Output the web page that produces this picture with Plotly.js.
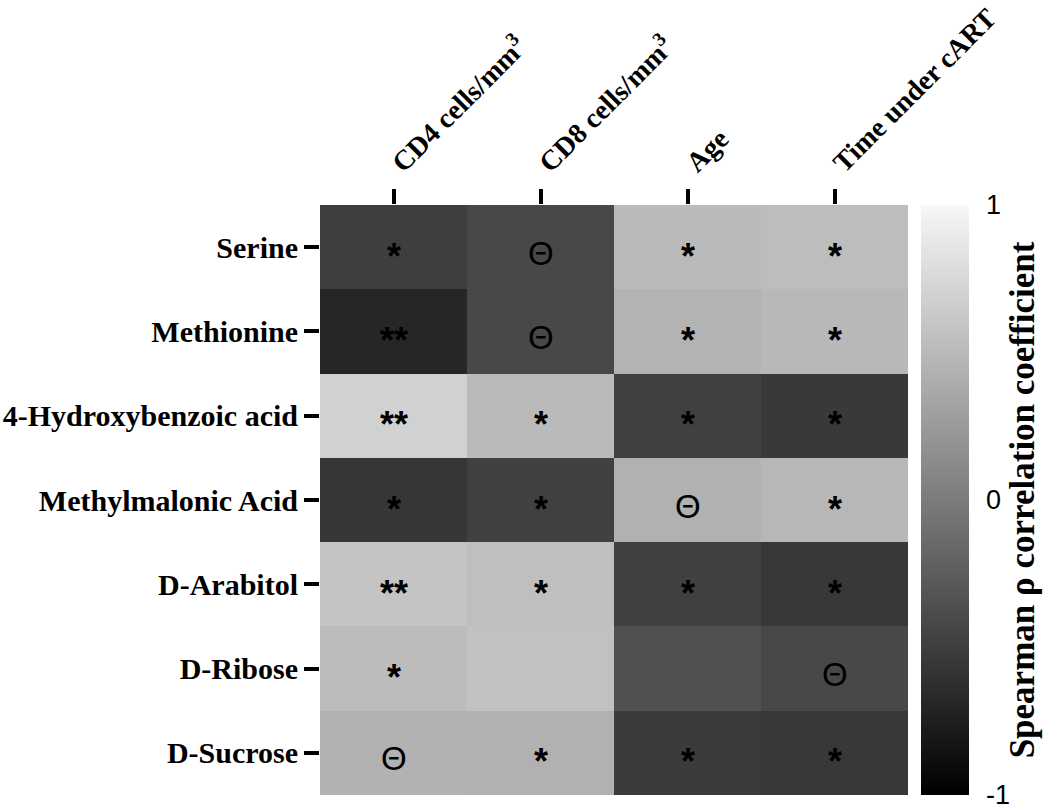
<!DOCTYPE html>
<html>
<head>
<meta charset="utf-8">
<script src="https://cdn.plot.ly/plotly-3.0.1.min.js"></script>
<style>html,body{margin:0;padding:0;background:#fff;}</style>
</head>
<body>
<div id="chart" style="width:1056px;height:809px;"></div>
<script>
const columns = ["CD4 cells/mm<sup>3</sup>", "CD8 cells/mm<sup>3</sup>", "Age", "Time under cART"];
const metabolites = ["Serine", "Methionine", "4-Hydroxybenzoic acid", "Methylmalonic Acid", "D-Arabitol", "D-Ribose", "D-Sucrose"];
const rho = [
  [-0.50, -0.42,  0.51,  0.53],
  [-0.69, -0.42,  0.45,  0.49],
  [ 0.69,  0.51, -0.48, -0.54],
  [-0.56, -0.47,  0.43,  0.48],
  [ 0.59,  0.55, -0.48, -0.55],
  [ 0.52,  0.56, -0.35, -0.42],
  [ 0.44,  0.43, -0.52, -0.55]
];
const marks = [
  ["*",  "Θ", "*", "*"],
  ["**", "Θ", "*", "*"],
  ["**", "*", "*", "*"],
  ["*",  "*", "Θ", "*"],
  ["**", "*", "*", "*"],
  ["*",  "",  "",  "Θ"],
  ["Θ",  "*", "*", "*"]
];
const cbTicks = [-1, 0, 1];

const trace = {
  type: "heatmap",
  x: columns,
  y: metabolites,
  z: rho,
  zmin: -1, zmax: 1,
  colorscale: [[0, "#000000"], [1, "#f7f7f7"]],
  hoverinfo: "none",
  colorbar: {
    x: 1.022, xanchor: "left", xref: "paper", xpad: 0,
    y: 0.5, yanchor: "middle", len: 1, lenmode: "fraction", ypad: 0,
    thickness: 48, outlinewidth: 0,
    tickvals: cbTicks, ticktext: cbTicks.map(String),
    ticks: "outside", ticklen: 12, tickcolor: "rgba(0,0,0,0)",
    ticklabeloverflow: "allow",
    tickfont: {family: "Liberation Sans, Arial, sans-serif", size: 27, color: "#000"},
    title: {text: "<b>Spearman ρ correlation coefficient</b>", side: "right",
            font: {family: "Liberation Serif, Times New Roman, serif", size: 35, color: "#000"}}
  }
};

// cell annotations built from the marks array
const annotations = [];
marks.forEach((row, i) => row.forEach((m, j) => {
  if (!m) return;
  const isStar = m.indexOf("*") >= 0;
  annotations.push({
    x: columns[j], y: metabolites[i], xref: "x", yref: "y",
    text: m, showarrow: false,
    yshift: isStar ? -9 : -6,
    font: {family: "Liberation Sans, Arial, sans-serif", size: isStar ? 36 : 33, color: "#000",
           weight: isStar ? "bold" : "normal"}
  });
}));

const layout = {
  width: 1056, height: 809,
  margin: {l: 320, r: 148, t: 205, b: 14, pad: 0},
  paper_bgcolor: "#fff", plot_bgcolor: "#fff",
  font: {family: "Liberation Serif, Times New Roman, serif", color: "#000"},
  annotations: annotations,
  xaxis: {
    side: "top", type: "category",
    ticks: "outside", ticklen: 15, tickwidth: 4, tickcolor: "#000",
    tickangle: -45, showgrid: false, zeroline: false, showline: false,
    tickfont: {family: "Liberation Serif, Times New Roman, serif", size: 28, color: "#000", weight: "bold"}
  },
  yaxis: {
    type: "category", autorange: "reversed",
    ticks: "outside", ticklen: 15, tickwidth: 4, tickcolor: "#000",
    showgrid: false, zeroline: false, showline: false,
    tickfont: {family: "Liberation Serif, Times New Roman, serif", size: 30, color: "#000", weight: "bold"}
  }
};

Plotly.newPlot("chart", [trace], layout, {displayModeBar: false, staticPlot: true});
</script>
</body>
</html>
